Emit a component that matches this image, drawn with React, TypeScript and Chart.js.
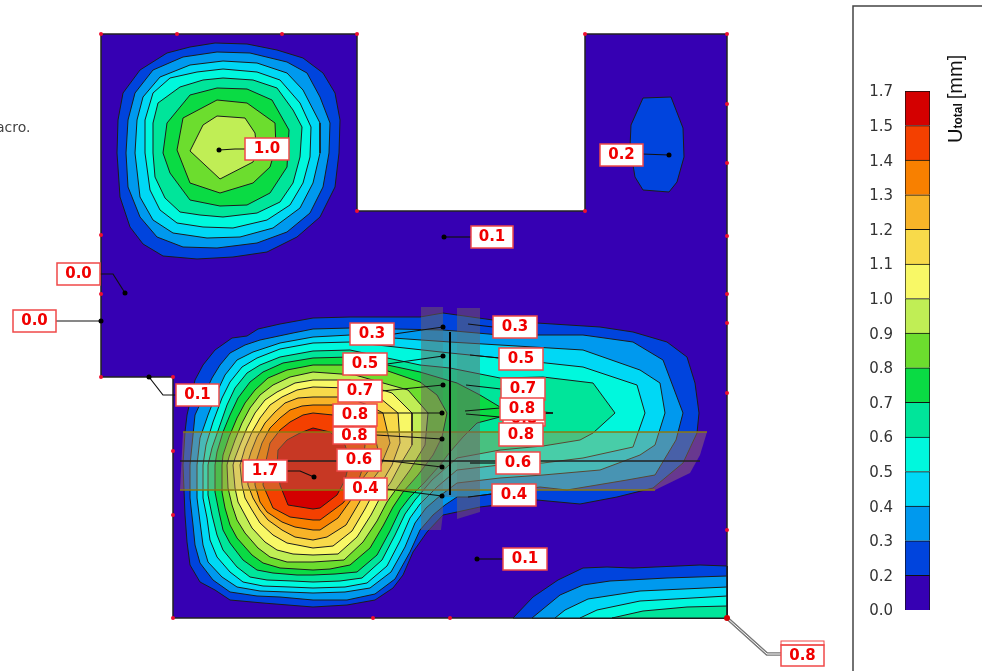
import React, { useEffect, useRef } from "react";
import { Chart, registerables } from "chart.js";

Chart.register(...registerables);

type Pt = [number, number];

const bandColors = ["#3600B3", "#0044DD", "#0099EE", "#00D8F5", "#00F8DD", "#00E59A", "#0ADB44", "#6CDD2E", "#C0EE55", "#F8F866", "#F8DA4A", "#F8B428", "#F88000", "#F44000", "#D40000"];
const colorbarTicks = ["0.0", "0.2", "0.3", "0.4", "0.5", "0.6", "0.7", "0.8", "0.9", "1.0", "1.1", "1.2", "1.3", "1.4", "1.5", "1.7"];

const domain: Pt[] = [[101, 34], [357, 34], [357, 211], [585, 211], [585, 34], [727, 34], [727, 618], [173, 618], [173, 377], [101, 377]];
const meshNodes: Pt[] = [[101, 34], [177, 34], [282, 34], [357, 34], [357, 211], [585, 211], [585, 34], [727, 34], [727, 104], [727, 163], [727, 236], [727, 294], [727, 323], [727, 393], [727, 530], [727, 618], [450, 618], [373, 618], [173, 618], [173, 515], [173, 451], [173, 377], [101, 377], [101, 294], [101, 235]];

// contours of the upper-left lobe, one per level from 0.2 to 0.9
const upperLobe02: Pt[] = [[215, 43], [247, 44], [277, 50], [303, 58], [323, 73], [335, 93], [340, 120], [339, 153], [335, 187], [320, 217], [297, 237], [267, 252], [233, 257], [197, 259], [163, 256], [143, 244], [130, 227], [120, 197], [117, 153], [118, 120], [123, 93], [140, 70], [167, 53], [190, 47]];
const upperLobe03: Pt[] = [[217, 52], [250, 53], [287, 62], [307, 73], [320, 97], [330, 123], [329, 153], [323, 187], [310, 213], [287, 232], [257, 243], [217, 248], [183, 247], [157, 237], [140, 217], [128, 187], [126, 153], [128, 120], [135, 93], [153, 70], [183, 57]];
const upperLobe04: Pt[] = [[223, 61], [257, 63], [287, 73], [303, 90], [320, 123], [320, 153], [313, 183], [300, 208], [273, 228], [240, 237], [207, 238], [173, 233], [153, 220], [140, 197], [135, 153], [137, 120], [143, 97], [160, 77], [190, 65]];
const upperLobe05: Pt[] = [[223, 69], [257, 72], [280, 80], [300, 103], [311, 127], [310, 157], [303, 183], [290, 205], [267, 220], [233, 228], [203, 227], [177, 223], [160, 210], [150, 190], [145, 153], [145, 120], [153, 93], [170, 78], [197, 72]];
const upperLobe06: Pt[] = [[223, 78], [253, 80], [277, 88], [293, 110], [302, 127], [300, 157], [293, 183], [280, 202], [257, 213], [223, 217], [200, 215], [180, 212], [165, 198], [155, 177], [153, 153], [153, 123], [158, 103], [180, 87], [203, 80]];
const upperLobe07: Pt[] = [[217, 88], [247, 89], [272, 100], [289, 130], [287, 167], [270, 193], [247, 205], [220, 206], [190, 200], [170, 173], [163, 153], [167, 123], [190, 95]];
const upperLobe08: Pt[] = [[217, 100], [247, 103], [275, 123], [276, 147], [270, 167], [253, 183], [220, 193], [190, 183], [177, 150], [183, 118]];
const upperLobe09: Pt[] = [[217, 116], [245, 118], [255, 133], [257, 153], [253, 162], [220, 179], [190, 151], [203, 125]];

// the small lobe at the upper right, level 0.2
const rightLobe02: Pt[] = [[643, 98], [671, 97], [683, 128], [684, 157], [677, 182], [669, 192], [643, 190], [635, 177], [630, 147], [631, 125]];

// the large lobe with its tail, one per level from 0.2 to 1.5
const mainLobe02: Pt[] = [[313, 318], [350, 317], [420, 317], [443, 313], [493, 320], [537, 323], [600, 327], [633, 332], [667, 342], [687, 357], [695, 383], [699, 413], [697, 433], [683, 463], [653, 488], [617, 497], [580, 504], [537, 500], [480, 507], [457, 512], [443, 515], [427, 532], [413, 552], [403, 575], [393, 588], [375, 600], [347, 605], [313, 607], [263, 603], [230, 600], [215, 590], [200, 582], [190, 565], [187, 542], [185, 515], [183, 465], [185, 432], [187, 415], [195, 380], [203, 365], [215, 350], [232, 338], [247, 336], [258, 329], [280, 324]];
const mainLobe03: Pt[] = [[313, 329], [350, 328], [443, 330], [500, 335], [583, 335], [633, 342], [663, 360], [683, 413], [676, 440], [655, 475], [627, 480], [567, 490], [540, 487], [470, 497], [457, 497], [445, 505], [433, 515], [420, 530], [410, 552], [395, 579], [375, 594], [347, 600], [313, 600], [280, 597], [257, 596], [230, 592], [213, 580], [200, 563], [195, 545], [193, 525], [190, 498], [190, 465], [195, 415], [212, 378], [220, 365], [230, 353], [245, 345], [260, 340], [293, 333]];
const mainLobe04: Pt[] = [[313, 337], [350, 335], [450, 342], [500, 345], [583, 350], [640, 370], [660, 383], [665, 413], [655, 445], [640, 455], [600, 470], [543, 475], [500, 478], [457, 483], [441, 495], [426, 508], [415, 523], [405, 547], [391, 572], [370, 588], [345, 592], [313, 593], [287, 592], [260, 591], [237, 587], [222, 577], [208, 562], [203, 545], [200, 522], [197, 498], [197, 465], [200, 438], [208, 415], [217, 392], [225, 375], [237, 360], [253, 352], [280, 343]];
const mainLobe05: Pt[] = [[313, 343], [350, 342], [450, 353], [500, 358], [583, 367], [637, 385], [645, 413], [633, 447], [583, 458], [543, 463], [500, 465], [457, 470], [437, 487], [420, 504], [410, 518], [400, 541], [387, 566], [367, 583], [345, 587], [313, 588], [290, 587], [263, 586], [243, 582], [230, 572], [217, 557], [210, 540], [207, 518], [203, 498], [203, 465], [206, 445], [213, 422], [222, 398], [230, 382], [242, 367], [257, 358], [280, 349]];
const mainLobe06: Pt[] = [[313, 351], [350, 350], [420, 365], [450, 368], [500, 378], [543, 377], [593, 383], [615, 413], [593, 433], [580, 440], [543, 446], [500, 450], [457, 458], [432, 480], [415, 500], [405, 514], [395, 535], [382, 560], [362, 578], [340, 581], [313, 582], [293, 581], [267, 580], [250, 577], [237, 567], [223, 550], [217, 535], [212, 515], [208, 495], [208, 465], [212, 448], [220, 425], [227, 405], [235, 388], [247, 373], [260, 365], [280, 357]];
const mainLobe07: Pt[] = [[313, 358], [350, 357], [420, 372], [457, 383], [480, 395], [500, 407], [553, 413], [500, 417], [477, 423], [463, 437], [450, 452], [440, 465], [425, 482], [410, 497], [400, 510], [390, 531], [377, 555], [357, 572], [335, 574], [313, 575], [297, 575], [273, 573], [257, 570], [243, 560], [230, 543], [223, 530], [219, 512], [215, 492], [215, 465], [217, 452], [223, 432], [230, 415], [238, 398], [250, 382], [263, 372], [283, 363]];
const mainLobe08: Pt[] = [[313, 365], [350, 365], [385, 370], [420, 382], [437, 395], [447, 413], [442, 437], [433, 455], [418, 475], [403, 492], [393, 507], [383, 526], [370, 548], [350, 565], [330, 569], [313, 570], [280, 568], [263, 563], [252, 555], [237, 538], [230, 525], [225, 508], [222, 492], [222, 465], [223, 455], [229, 437], [237, 418], [245, 403], [255, 390], [268, 378], [287, 370]];
const mainLobe09: Pt[] = [[313, 372], [355, 375], [408, 390], [428, 413], [425, 445], [410, 470], [397, 488], [387, 502], [377, 521], [363, 542], [344, 560], [313, 562], [287, 562], [270, 557], [258, 548], [245, 533], [237, 520], [232, 505], [228, 488], [227, 465], [229, 457], [235, 440], [242, 423], [250, 408], [260, 395], [273, 385], [290, 377]];
const mainLobe10: Pt[] = [[313, 380], [350, 380], [392, 393], [412, 413], [412, 445], [400, 465], [391, 482], [381, 496], [371, 515], [357, 537], [338, 554], [313, 555], [293, 554], [277, 550], [265, 542], [252, 528], [245, 515], [238, 502], [235, 488], [233, 465], [235, 458], [240, 445], [247, 428], [255, 413], [265, 400], [277, 392], [295, 383]];
const mainLobe11: Pt[] = [[313, 387], [350, 388], [380, 398], [398, 413], [400, 443], [392, 465], [385, 477], [375, 490], [365, 509], [352, 531], [333, 546], [313, 548], [287, 543], [273, 535], [260, 523], [252, 510], [245, 498], [242, 485], [240, 465], [245, 448], [252, 432], [260, 418], [270, 405], [282, 397], [297, 390]];
const mainLobe12: Pt[] = [[313, 397], [345, 397], [368, 405], [383, 413], [390, 443], [383, 460], [379, 471], [369, 484], [359, 503], [346, 525], [327, 537], [313, 540], [295, 537], [282, 530], [268, 520], [260, 510], [253, 498], [248, 485], [247, 465], [251, 452], [257, 437], [265, 423], [275, 412], [285, 403], [298, 398]];
const mainLobe13: Pt[] = [[313, 405], [340, 405], [360, 415], [374, 432], [378, 450], [373, 465], [363, 478], [353, 497], [338, 518], [320, 530], [313, 530], [295, 527], [282, 522], [267, 512], [260, 502], [255, 485], [255, 465], [262, 443], [270, 428], [280, 418], [290, 410], [302, 406]];
const mainLobe14: Pt[] = [[313, 413], [333, 415], [352, 425], [365, 445], [362, 470], [357, 485], [343, 503], [320, 520], [313, 520], [290, 517], [273, 508], [263, 485], [265, 465], [270, 443], [280, 430], [290, 422], [303, 415]];
const mainLobe15: Pt[] = [[313, 428], [330, 432], [345, 445], [350, 460], [345, 480], [337, 495], [320, 508], [313, 509], [288, 505], [280, 485], [277, 465], [278, 450], [287, 440], [300, 433]];

// the band in the lower right corner, levels 0.2 to 0.6
const cornerBand02: Pt[] = [[513, 618], [533, 597], [558, 580], [583, 568], [607, 567], [633, 568], [700, 565], [727, 566], [727, 618]];
const cornerBand03: Pt[] = [[532, 618], [560, 595], [583, 585], [610, 581], [667, 578], [727, 576], [727, 618]];
const cornerBand04: Pt[] = [[555, 618], [565, 610], [588, 599], [640, 591], [727, 587], [727, 618]];
const cornerBand05: Pt[] = [[580, 618], [597, 610], [640, 601], [727, 596], [727, 618]];
const cornerBand06: Pt[] = [[612, 618], [643, 611], [687, 607], [727, 606], [727, 618]];

const contourLevels: { band: number; path: Pt[] }[] = [
  { band: 1, path: upperLobe02 }, { band: 2, path: upperLobe03 }, { band: 3, path: upperLobe04 }, { band: 4, path: upperLobe05 },
  { band: 5, path: upperLobe06 }, { band: 6, path: upperLobe07 }, { band: 7, path: upperLobe08 }, { band: 8, path: upperLobe09 },
  { band: 1, path: rightLobe02 },
  { band: 1, path: mainLobe02 }, { band: 2, path: mainLobe03 }, { band: 3, path: mainLobe04 }, { band: 4, path: mainLobe05 },
  { band: 5, path: mainLobe06 }, { band: 6, path: mainLobe07 }, { band: 7, path: mainLobe08 }, { band: 8, path: mainLobe09 },
  { band: 9, path: mainLobe10 }, { band: 10, path: mainLobe11 }, { band: 11, path: mainLobe12 }, { band: 12, path: mainLobe13 },
  { band: 13, path: mainLobe14 }, { band: 14, path: mainLobe15 },
  { band: 1, path: cornerBand02 }, { band: 2, path: cornerBand03 }, { band: 3, path: cornerBand04 }, { band: 4, path: cornerBand05 }, { band: 5, path: cornerBand06 },
];

// translucent section strips
const stripHorizontal: Pt[] = [[183, 432], [707, 432], [700, 455], [690, 473], [655, 490], [180, 490]];
const stripVerticalLeft: Pt[] = [[421, 307], [443, 307], [443, 513], [441, 530], [421, 530]];
const stripVerticalCenter: Pt[] = [[443, 331], [457, 331], [457, 497], [443, 497]];
const stripVerticalRight: Pt[] = [[457, 308], [480, 308], [480, 512], [457, 519]];
const sectionHorizontal: Pt[] = [[180, 461], [700, 461]];
const sectionVertical: Pt[] = [[450, 332], [450, 495]];

const calloutValues = ["1.0", "0.2", "0.1", "0.0", "0.0", "0.1", "1.7", "0.1", "0.8", "0.3", "0.5", "0.7", "0.8", "0.8", "0.6", "0.4", "0.3", "0.5", "0.7", "0.8", "0.8", "0.8", "0.6", "0.4"];
const calloutBoxes: [number, number, number, number][] = [[245, 138, 289, 160], [600, 144, 643, 166], [471, 226, 513, 248], [57, 263, 100, 285], [13, 310, 56, 332], [176, 384, 219, 406], [243, 460, 287, 482], [503, 548, 547, 570], [781, 645, 824, 666], [350, 323, 394, 345], [343, 353, 387, 375], [338, 380, 382, 402], [333, 404, 377, 426], [333, 427, 376, 444], [337, 449, 381, 471], [344, 478, 387, 500], [493, 316, 537, 338], [499, 348, 543, 370], [501, 378, 545, 400], [503, 412, 545, 426], [500, 398, 544, 420], [499, 423, 543, 446], [496, 452, 540, 474], [492, 484, 536, 506]];
const calloutLeaders: Pt[][] = [
  [[219, 150], [235, 149], [245, 149]], [[669, 155], [642, 154]], [[444, 237], [471, 237]],
  [[125, 293], [113, 274], [100, 274]], [[101, 321], [56, 321]], [[149, 377], [163, 395], [176, 395]],
  [[314, 477], [300, 471], [287, 471]], [[477, 559], [503, 559]],
  [[394, 334], [443, 327]], [[387, 364], [443, 356]], [[382, 391], [443, 385]], [[377, 413], [442, 413]],
  [[376, 435], [442, 439]], [[381, 460], [442, 467]], [[387, 489], [442, 496]],
  [[468, 324], [493, 327]], [[470, 355], [499, 358]], [[466, 385], [501, 389]],
  [[465, 411], [500, 408]], [[466, 414], [500, 417]], [[545, 413], [553, 413]],
  [[470, 463], [496, 463]], [[468, 497], [492, 494]],
];
const calloutTargets: Pt[] = [[219, 150], [669, 155], [444, 237], [125, 293], [101, 321], [149, 377], [314, 477], [477, 559], [443, 327], [443, 356], [443, 385], [442, 413], [442, 439], [442, 467], [442, 496]];
const cornerLeader: Pt[] = [[727, 618], [767, 654], [781, 654]];
const panelFrame: Pt[] = [[982, 6], [853, 6], [853, 671]];
const noteText = "acro.";

const xy = (p: Pt[]) => p.map(([x, y]) => ({ x, y }));
const closed = (p: Pt[]) => xy([...p, p[0]]);
const FONT = '"DejaVu Sans", sans-serif';

export default function App() {
  const mainRef = useRef<HTMLCanvasElement>(null);
  const barRef = useRef<HTMLCanvasElement>(null);

  useEffect(() => {
    const line = (data: any, extra: any = {}) => ({
      data, showLine: true, pointRadius: 0, borderWidth: 1, borderColor: "#1c1c1c", backgroundColor: "transparent", tension: 0, fill: false, ...extra,
    });
    const shape = (p: Pt[], bg: string, border = "#1c1c1c", width = 1) =>
      line(closed(p), { fill: "shape", backgroundColor: bg, borderColor: border, borderWidth: width });

    const painted: any[] = [];
    painted.push(shape(domain, bandColors[0], "#222", 1.5));
    contourLevels.forEach((c) => painted.push(shape(c.path, bandColors[c.band])));
    painted.push(shape(stripHorizontal, "rgba(180,140,90,0.4)", "rgba(0,0,0,0)", 0));
    painted.push(line(xy([stripHorizontal[0], stripHorizontal[1]]), { borderColor: "#8a7a10", borderWidth: 1.5 }));
    painted.push(line(xy([stripHorizontal[4], stripHorizontal[5]]), { borderColor: "#8a7a10", borderWidth: 1.5 }));
    painted.push(shape(stripVerticalLeft, "rgba(110,100,100,0.5)", "rgba(0,0,0,0)", 0));
    painted.push(shape(stripVerticalCenter, "rgba(110,100,100,0.4)", "rgba(0,0,0,0)", 0));
    painted.push(shape(stripVerticalRight, "rgba(110,100,100,0.5)", "rgba(0,0,0,0)", 0));
    painted.push(line(xy(sectionHorizontal), { borderColor: "#222", borderWidth: 1.5 }));
    painted.push(line(xy(sectionVertical), { borderColor: "#000", borderWidth: 2 }));
    calloutLeaders.forEach((l) => painted.push(line(xy(l), { borderColor: "#111", borderWidth: 1.2 })));
    painted.push(line(xy(cornerLeader), { borderColor: "#777", borderWidth: 3.5 }));
    painted.push(line(xy(cornerLeader), { borderColor: "#fff", borderWidth: 1 }));
    painted.push(line(xy(panelFrame), { borderColor: "#444", borderWidth: 1.5 }));
    painted.push({ data: xy(meshNodes), showLine: false, pointRadius: 2, pointBackgroundColor: "#f01030", pointBorderWidth: 0 });
    painted.push({ data: xy(calloutTargets), showLine: false, pointRadius: 2.5, pointBackgroundColor: "#000", pointBorderWidth: 0 });
    painted.push({ data: xy([[727, 618]]), showLine: false, pointRadius: 3, pointBackgroundColor: "#d00000", pointBorderWidth: 0 });

    const calloutPlugin = {
      id: "callouts",
      afterDatasetsDraw(chart: any) {
        const { ctx, scales } = chart;
        const sx = (v: number) => scales.x.getPixelForValue(v);
        const sy = (v: number) => scales.y.getPixelForValue(v);
        ctx.save();
        calloutBoxes.forEach(([x0, y0, x1, y1], i) => {
          ctx.fillStyle = "#fff";
          ctx.strokeStyle = "#f04848";
          ctx.lineWidth = 1.5;
          ctx.fillRect(sx(x0), sy(y0), sx(x1) - sx(x0), sy(y1) - sy(y0));
          ctx.strokeRect(sx(x0), sy(y0), sx(x1) - sx(x0), sy(y1) - sy(y0));
          ctx.fillStyle = "#f00000";
          ctx.font = `bold 15px ${FONT}`;
          ctx.textAlign = "center";
          ctx.textBaseline = "middle";
          ctx.fillText(calloutValues[i], sx((x0 + x1) / 2), sy((y0 + y1) / 2) + 0.5);
        });
        // second border on the corner callout
        ctx.strokeStyle = "#f04848";
        ctx.lineWidth = 1;
        ctx.strokeRect(sx(781), sy(641), sx(824) - sx(781), sy(645) - sy(641));
        ctx.fillStyle = "#444";
        ctx.font = `14px ${FONT}`;
        ctx.textAlign = "left";
        ctx.textBaseline = "middle";
        ctx.fillText(noteText, sx(-4), sy(128));
        ctx.restore();
      },
    };

    const main = new Chart(mainRef.current!, {
      type: "scatter",
      data: { datasets: painted.slice().reverse() },
      options: {
        animation: false, responsive: false, devicePixelRatio: 1,
        layout: { padding: 0, autoPadding: false },
        plugins: { legend: { display: false }, tooltip: { enabled: false } },
        scales: {
          x: { type: "linear", min: 0, max: 982, display: false },
          y: { type: "linear", min: 0, max: 671, reverse: true, display: false },
        },
      } as any,
      plugins: [calloutPlugin],
    });

    const titlePlugin = {
      id: "cbTitle",
      afterDraw(chart: any) {
        const { ctx } = chart;
        ctx.save();
        ctx.translate(107, 143);
        ctx.rotate(-Math.PI / 2);
        ctx.fillStyle = "#111";
        ctx.textBaseline = "alphabetic";
        ctx.textAlign = "left";
        ctx.font = '20px "Liberation Sans", sans-serif';
        ctx.fillText("U", 0, 0);
        let w = ctx.measureText("U").width;
        ctx.font = 'bold 12px "Liberation Sans", sans-serif';
        ctx.fillText("total", w, 0);
        w += ctx.measureText("total").width + 4;
        ctx.font = '20px "Liberation Sans", sans-serif';
        ctx.fillText("[mm]", w, 0);
        ctx.restore();
      },
    };

    const bar = new Chart(barRef.current!, {
      type: "bar",
      data: {
        labels: ["Utotal"],
        datasets: bandColors.map((c) => ({ data: [1], backgroundColor: c, borderColor: "#111", borderWidth: 1, barPercentage: 1, categoryPercentage: 1 })),
      },
      options: {
        animation: false, responsive: false, devicePixelRatio: 1,
        layout: { padding: { top: 91, bottom: 61, left: 0, right: 52 }, autoPadding: false },
        plugins: { legend: { display: false }, tooltip: { enabled: false } },
        scales: {
          x: { stacked: true, display: false },
          y: {
            stacked: true, min: 0, max: 15,
            afterFit(s: any) { s.width = 50; s.paddingTop = 0; s.paddingBottom = 0; },
            border: { display: false }, grid: { display: false, drawTicks: false },
            ticks: { stepSize: 1, autoSkip: false, padding: 12, labelOffset: 1.5, color: "#333", font: { family: "DejaVu Sans", size: 15 },
              callback: (v: any) => colorbarTicks[v] },
          },
        },
      } as any,
      plugins: [titlePlugin],
    });

    return () => { main.destroy(); bar.destroy(); };
  }, []);

  return (
    <div style={{ position: "absolute", left: 0, top: 0, width: 982, height: 671, background: "#fff", overflow: "hidden" }}>
      <canvas ref={mainRef} width={982} height={671} style={{ position: "absolute", left: 0, top: 0 }} />
      <canvas ref={barRef} width={127} height={671} style={{ position: "absolute", left: 855, top: 0 }} />
    </div>
  );
}
